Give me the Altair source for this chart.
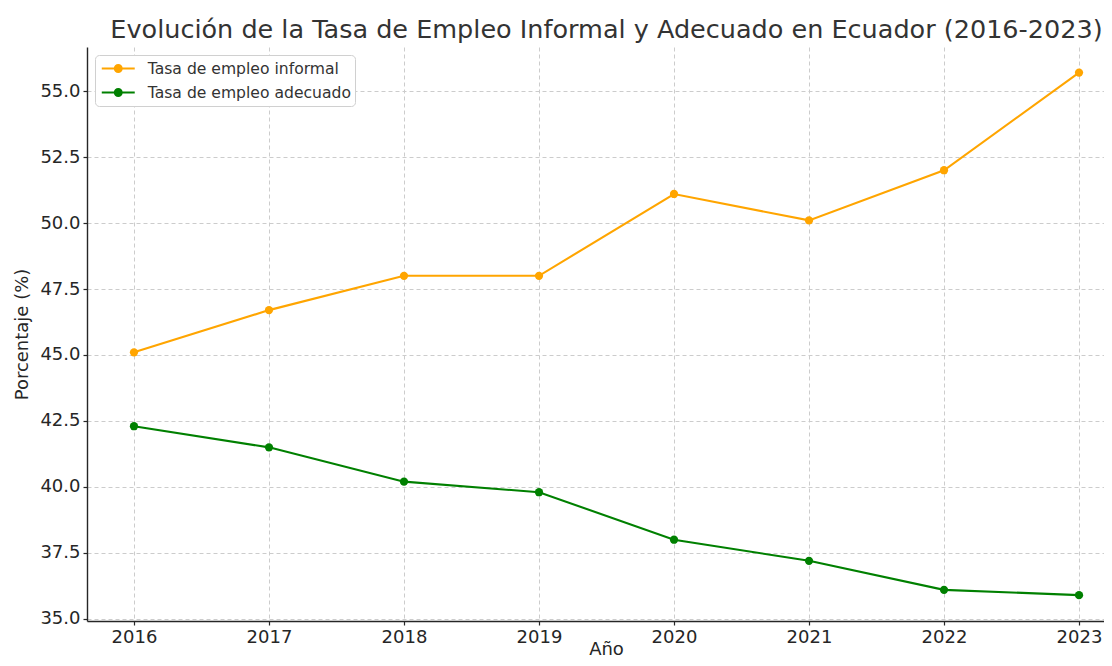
import altair as alt
import pandas as pd

years = [2016, 2017, 2018, 2019, 2020, 2021, 2022, 2023]
informal = [45.1, 46.7, 48.0, 48.0, 51.1, 50.1, 52.0, 55.7]
adecuado = [42.3, 41.5, 40.2, 39.8, 38.0, 37.2, 36.1, 35.9]
series_names = ["Tasa de empleo informal", "Tasa de empleo adecuado"]
series_colors = ["#FFA500", "#008000"]
y_ticks = [35.0, 37.5, 40.0, 42.5, 45.0, 47.5, 50.0, 52.5, 55.0]

rows = []
for name, vals in zip(series_names, [informal, adecuado]):
    for yr, v in zip(years, vals):
        rows.append({"Año": yr, "Valor": v, "Serie": name})
df = pd.DataFrame(rows)


def ring(r):
    return f"M-{r},0A{r},{r},0,1,0,{r},0A{r},{r},0,1,0,-{r},0"


# line segment plus concentric rings that read as a filled dot
legend_path = "M-2,0H2" + ring(0.42) + ring(0.24) + ring(0.08)

series_scale = alt.Scale(domain=series_names, range=series_colors)

x_enc = alt.X("Año:Q",
              scale=alt.Scale(domain=[2015.652, 2023.185], nice=False, zero=False),
              axis=alt.Axis(values=years, format="d", title="Año",
                            titleX=519, titleAlign="center", titleAnchor="start",
                            titleY=33, titleBaseline="alphabetic"))
y_enc = alt.Y("Valor:Q",
              scale=alt.Scale(domain=[34.92, 56.67], nice=False, zero=False),
              axis=alt.Axis(values=y_ticks, format=".1f", title="Porcentaje (%)",
                            titlePadding=8))

base = alt.Chart(df).encode(x=x_enc, y=y_enc)

lines = base.mark_line(strokeWidth=2.1).encode(
    color=alt.Color("Serie:N", scale=series_scale, sort=series_names,
                    legend=alt.Legend(
                        title=None, orient="none", legendX=8, legendY=8,
                        symbolType=legend_path, symbolSize=272,
                        symbolStrokeWidth=2, symbolOffset=9.75, symbolOpacity=1,
                        labelOffset=20, labelFont="DejaVu Sans",
                        labelFontSize=15.6, labelColor="#333333",
                        rowPadding=5, padding=4,
                        strokeColor="#d0d0d0", fillColor="white",
                        cornerRadius=4, labelLimit=400,
                    ))
)
points = base.mark_circle(size=68, opacity=1).encode(
    color=alt.Color("Serie:N", scale=series_scale, sort=series_names, legend=None)
)

chart = alt.layer(lines, points).properties(
    width=1017,
    height=574,
    background="white",
    autosize=alt.AutoSizeParams(type="none"),
    padding={"left": 79, "top": 39, "right": 0, "bottom": 37},
    title=alt.TitleParams(
        "Evolución de la Tasa de Empleo Informal y Adecuado en Ecuador (2016-2023)",
        font="DejaVu Sans", fontSize=25.5, fontWeight="normal", color="#333333",
        anchor="middle", dx=11, offset=4, frame="group"),
).configure_view(
    stroke=None
).configure_axis(
    labelFont="DejaVu Sans", labelFontSize=18, labelColor="#262626",
    titleFont="DejaVu Sans", titleFontSize=18, titleFontWeight="normal",
    titleColor="#262626",
    domainColor="#262626", domainWidth=1.4,
    tickColor="#262626", tickWidth=1.2, tickSize=4,
    labelPadding=3,
    gridColor="#cccccc", gridDash=[4, 3], gridWidth=1,
)

chart.save("out.html", embed_options={"renderer": "svg", "actions": False})
